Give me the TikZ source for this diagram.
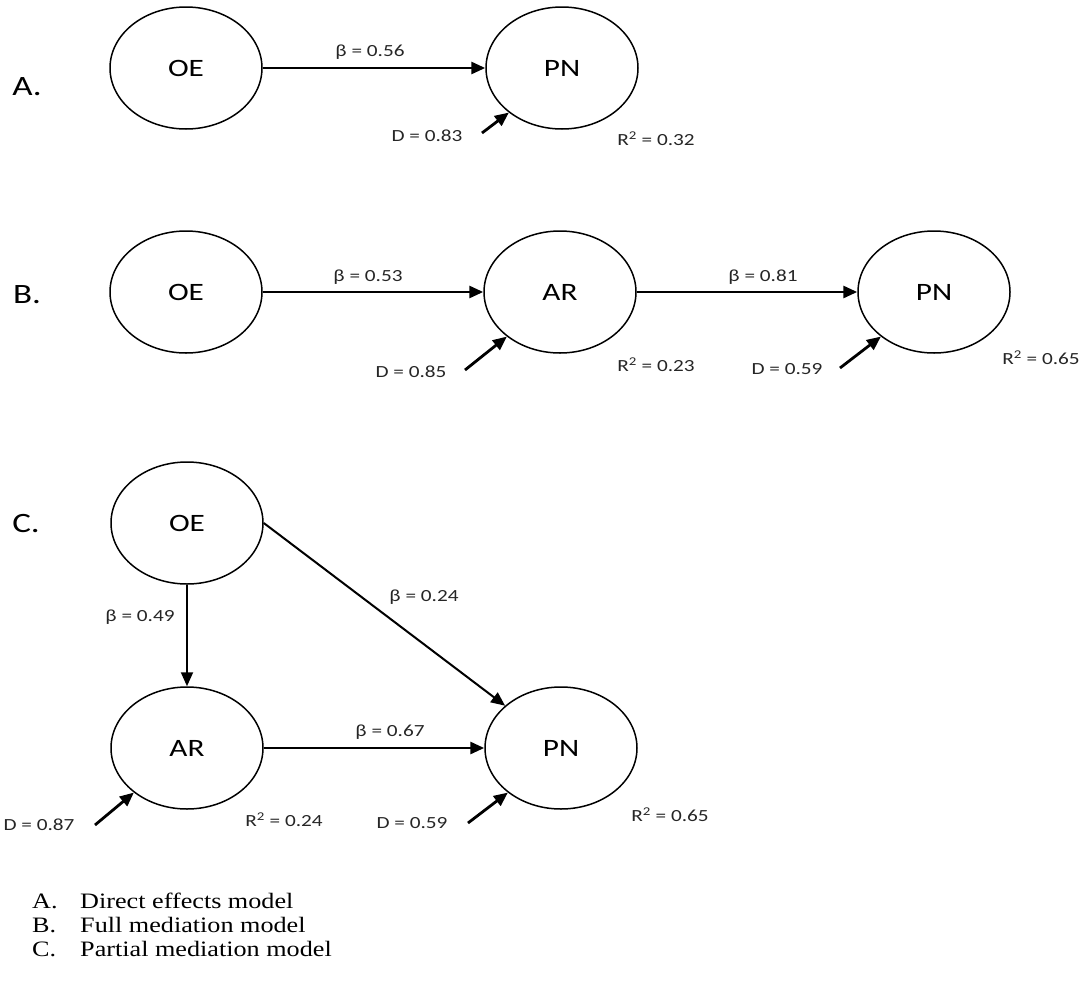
\documentclass[tikz,border=0pt]{standalone}
\usepackage{fontspec}
\setmainfont{Liberation Serif}[FakeStretch=1.19]
\newfontfamily\calib{Carlito}[FakeStretch=1.25]
\usetikzlibrary{shapes.geometric,arrows.meta}

\tikzset{
  latent/.style={draw, ellipse, line width=1.5pt, minimum width=152pt,
    minimum height=122pt, inner sep=0pt, font=\calib\fontsize{25}{25}\selectfont},
  effect/.style={line width=2.8pt, -{Triangle[length=14pt,width=12pt]}},
  slim/.style={line width=2pt, -{Triangle[length=14pt,width=12pt]}},
  coef/.style={font=\calib\fontsize{17}{17}\selectfont, text=black!85, inner sep=0pt},
  panel/.style={font=\calib\fontsize{28}{28}\selectfont, inner sep=0pt},
  legend/.style={font=\fontsize{22}{24}\selectfont, anchor=base west, inner sep=0pt},
}

\begin{document}
\begin{tikzpicture}[x=1pt,y=-1pt]
  \useasboundingbox (0,0) rectangle (1088,983);

  % ---------- A. direct effects ----------
  \node[panel] (labA) at (27,87) {A.};
  \node[latent] (oeA) at (186,68) {OE};
  \node[latent] (pnA) at (562,68) {PN};
  \draw[effect] (oeA) -- (pnA);
  \node[coef] (bA) at (370,52) {β = 0.56};
  \coordinate (dA) at (482,133);
  \draw[effect] (dA) -- (pnA.-140);
  \node[coef] (dlA) at (427,136) {D = 0.83};
  \node[coef] (rA) at (656,139) {R\textsuperscript{2} = 0.32};

  % ---------- B. full mediation ----------
  \node[panel] (labB) at (27,295) {B.};
  \node[latent] (oeB) at (186,292) {OE};
  \node[latent] (arB) at (560,292) {AR};
  \node[latent] (pnB) at (934,292) {PN};
  \draw[effect] (oeB) -- (arB);
  \draw[effect] (arB) -- (pnB);
  \node[coef] (bB1) at (368,277) {β = 0.53};
  \node[coef] (bB2) at (763,277) {β = 0.81};
  \coordinate (dB1) at (465,370);
  \coordinate (dB2) at (840,368);
  \draw[effect] (dB1) -- (arB.-140);
  \draw[effect] (dB2) -- (pnB.-140);
  \node[coef] (dlB1) at (411,372) {D = 0.85};
  \node[coef] (rB1) at (656,365) {R\textsuperscript{2} = 0.23};
  \node[coef] (dlB2) at (787,369) {D = 0.59};
  \node[coef] (rB2) at (1041,358) {R\textsuperscript{2} = 0.65};

  % ---------- C. partial mediation ----------
  \node[panel] (labC) at (26,524) {C.};
  \node[latent] (oeC) at (187,523) {OE};
  \node[latent] (arC) at (187,748) {AR};
  \node[latent] (pnC) at (561,748) {PN};
  \draw[slim] (oeC) -- (arC);
  \draw[slim] (oeC.east) -- (pnC);
  \draw[effect] (arC) -- (pnC);
  \node[coef] (bC1) at (140,617) {β = 0.49};
  \node[coef] (bC2) at (424,597) {β = 0.24};
  \node[coef] (bC3) at (390,732) {β = 0.67};
  \coordinate (dC1) at (95,825);
  \coordinate (dC2) at (468,823);
  \draw[effect] (dC1) -- (arC.-140);
  \draw[effect] (dC2) -- (pnC.-140);
  \node[coef] (dlC1) at (39,825) {D = 0.87};
  \node[coef] (rC1) at (284,820) {R\textsuperscript{2} = 0.24};
  \node[coef] (dlC2) at (412,823) {D = 0.59};
  \node[coef] (rC2) at (670,815) {R\textsuperscript{2} = 0.65};

  % ---------- legend ----------
  \node[legend] (kA) at (32,908) {A.};
  \node[legend] (tA) at (80,908) {Direct effects model};
  \node[legend] (kB) at (32,932) {B.};
  \node[legend] (tB) at (80,932) {Full mediation model};
  \node[legend] (kC) at (32,956) {C.};
  \node[legend] (tC) at (80,956) {Partial mediation model};
\end{tikzpicture}
\end{document}
